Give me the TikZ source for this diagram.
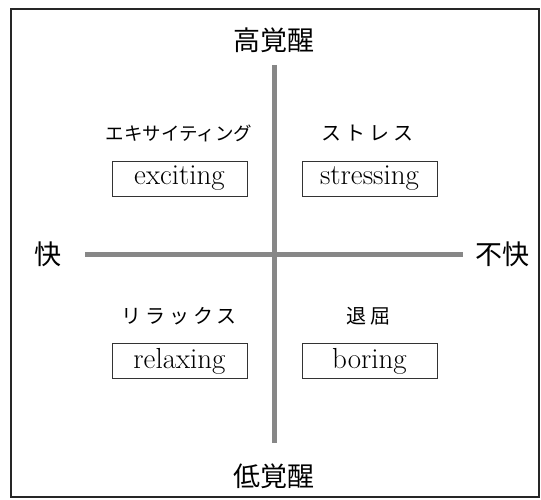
\documentclass[tikz,border=0pt]{standalone}
\usepackage{fontspec}
\newfontfamily\jp{Noto Sans CJK JP}
\newfontfamily\jpsp[LetterSpace=20]{Noto Sans CJK JP}
\begin{document}
\begin{tikzpicture}[x=1pt,y=-1pt,
  axisline/.style={line width=5pt, draw=black!47},
  frameline/.style={line width=1.3pt, draw=black!85},
  word/.style={draw=black!80, line width=0.9pt, minimum width=135pt, minimum height=35pt, inner sep=0pt, font=\fontsize{29}{30}\selectfont},
  pole/.style={font=\jp\fontsize{27}{28}\selectfont, inner sep=0pt},
  kana/.style={font=\jp\fontsize{18.5}{20}\selectfont, inner sep=0pt},
  kanasp/.style={font=\jpsp\fontsize{20}{22}\selectfont, inner sep=0pt}]
\useasboundingbox (0,0) rectangle (541,500);
\draw[frameline] (11,9) rectangle (539,497);
% axes
\coordinate (vtop) at (274,65);
\coordinate (vbot) at (274,443);
\coordinate (hleft) at (85,254);
\coordinate (hright) at (463,254);
\draw[axisline] (hleft) -- (hright);
\draw[axisline] (vtop) -- (vbot);
% poles
\node[pole] (high) at (274,40) {高覚醒};
\node[pole] (low) at (274,476) {低覚醒};
\node[pole] (pleasant) at (48,254) {快};
\node[pole] (unpleasant) at (502,254) {不快};
% quadrant labels
\node[kana] (exjp) at (179,133) {エキサイティング};
\node[kanasp] (stjp) at (367,133) {ストレス};
\node[kanasp] (rejp) at (179,316) {リラックス};
\node[kanasp] (bojp) at (368,316) {退屈};
% words
\node[word] (exciting) at (179.5,178.5) {exciting};
\node[word] (stressing) at (369.5,178.5) {stressing};
\node[word] (relaxing) at (179.5,361) {relaxing};
\node[word] (boring) at (369.5,361) {boring};
\end{tikzpicture}
\end{document}
